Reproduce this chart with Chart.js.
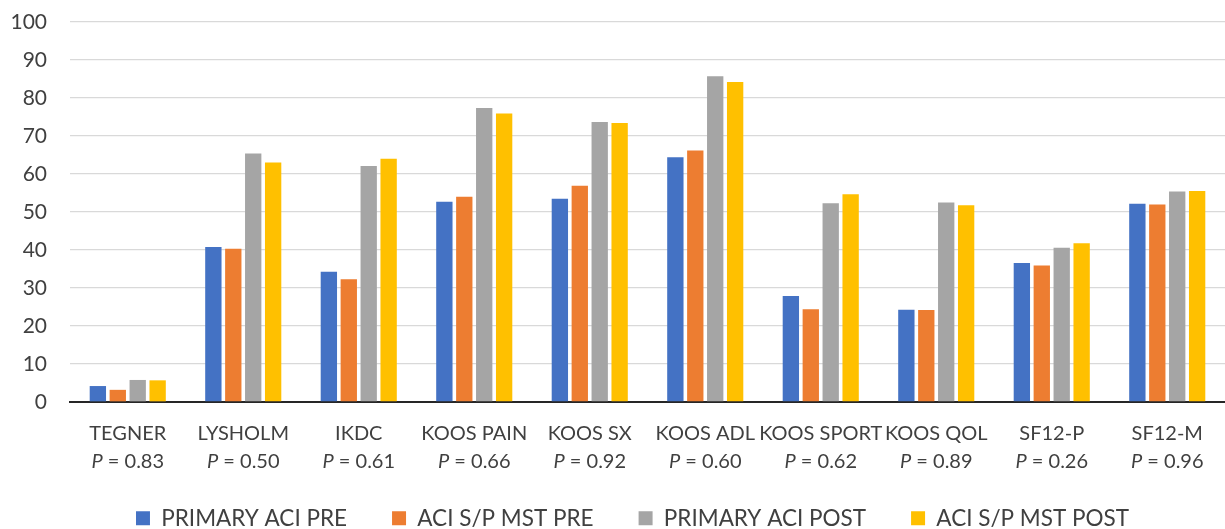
<!DOCTYPE html>
<html>
<head>
<meta charset="utf-8">
<script src="https://cdn.jsdelivr.net/npm/chart.js@4"></script>
<style>
  html, body { margin: 0; padding: 0; background: #ffffff; }
  canvas { display: block; }
</style>
</head>
<body>
<canvas id="outcomes" width="1225" height="529"></canvas>
<script>
// Outcome scores by instrument, pre/post for each cohort
const categories = ['TEGNER', 'LYSHOLM', 'IKDC', 'KOOS PAIN', 'KOOS SX', 'KOOS ADL', 'KOOS SPORT', 'KOOS QOL', 'SF12-P', 'SF12-M'];
const pValues = ['0.83', '0.50', '0.61', '0.66', '0.92', '0.60', '0.62', '0.89', '0.26', '0.96'];

const primaryAciPre  = [4.2, 40.8, 34.3, 52.7, 53.5, 64.4, 27.9, 24.3, 36.6, 52.2];
const aciMstPre      = [3.2, 40.3, 32.3, 54.0, 56.9, 66.2, 24.4, 24.2, 35.9, 52.0];
const primaryAciPost = [5.8, 65.4, 62.1, 77.4, 73.7, 85.7, 52.3, 52.5, 40.6, 55.4];
const aciMstPost     = [5.7, 63.0, 64.0, 75.9, 73.4, 84.2, 54.7, 51.8, 41.8, 55.5];

const seriesNames = ['PRIMARY ACI PRE', 'ACI S/P MST PRE', 'PRIMARY ACI POST', 'ACI S/P MST POST'];
const seriesColors = ['#4472C4', '#ED7D31', '#A5A5A5', '#FFC000'];
const yTickValues = [0, 10, 20, 30, 40, 50, 60, 70, 80, 90, 100];

const TEXT_COLOR = '#404040';
const FONT_FAMILY = 'Lato, "Open Sans", sans-serif';
const TICK_SIZE = 21;
const CATEGORY_SIZE = 20;
const LEGEND_SIZE = 22.5;

// Two-line category labels with an italic "P"
const categoryLabels = {
  id: 'categoryLabels',
  afterDraw(chart) {
    const { ctx } = chart;
    const x = chart.scales.x;
    const regular = CATEGORY_SIZE + 'px ' + FONT_FAMILY;
    const italic = 'italic ' + CATEGORY_SIZE + 'px ' + FONT_FAMILY;
    ctx.save();
    ctx.fillStyle = TEXT_COLOR;
    ctx.textBaseline = 'middle';
    categories.forEach((name, i) => {
      const cx = x.getPixelForTick(i);
      ctx.font = regular;
      ctx.textAlign = 'center';
      ctx.fillText(name, cx, x.top + 32);

      const rest = ' = ' + pValues[i];
      ctx.font = italic;
      const wP = ctx.measureText('P').width;
      ctx.font = regular;
      const wRest = ctx.measureText(rest).width;
      const start = cx - (wP + wRest) / 2;
      ctx.textAlign = 'left';
      ctx.font = italic;
      ctx.fillText('P', start, x.top + 60);
      ctx.font = regular;
      ctx.fillText(rest, start + wP, x.top + 60);
    });
    ctx.restore();
  }
};

// Nudge the legend row slightly right of the canvas centre
const legendOffset = {
  id: 'legendOffset',
  afterLayout(chart) {
    if (chart.legend) chart.legend.left += 40;
  }
};

new Chart(document.getElementById('outcomes'), {
  type: 'bar',
  data: {
    labels: categories,
    datasets: [primaryAciPre, aciMstPre, primaryAciPost, aciMstPost].map((values, k) => ({
      label: seriesNames[k],
      data: values,
      backgroundColor: seriesColors[k],
      borderWidth: 0,
      barPercentage: 0.82,
      categoryPercentage: 0.69
    }))
  },
  options: {
    responsive: false,
    animation: false,
    layout: { padding: { top: 22, left: 0, right: 0, bottom: 0 } },
    plugins: {
      tooltip: { enabled: false },
      legend: {
        position: 'bottom',
        maxHeight: 67,
        labels: {
          boxWidth: 14,
          boxHeight: 14,
          padding: 45,
          color: TEXT_COLOR,
          font: { family: FONT_FAMILY, size: LEGEND_SIZE }
        }
      }
    },
    scales: {
      x: {
        grid: { display: false, drawTicks: false },
        border: { display: true, color: '#262626', width: 2 },
        ticks: { display: false },
        afterFit(scale) { scale.height = 60; }
      },
      y: {
        min: 0,
        max: 100,
        afterBuildTicks(scale) { scale.ticks = yTickValues.map(v => ({ value: v })); },
        grid: { color: '#D9D9D9', lineWidth: 1.3, drawTicks: false },
        border: { display: false },
        ticks: {
          padding: 23,
          color: TEXT_COLOR,
          font: { family: FONT_FAMILY, size: TICK_SIZE }
        },
        afterFit(scale) {
          scale.width = 70;
          // only half a label of headroom above the top tick
          scale.paddingTop = 12;
          scale.paddingBottom = 12;
        }
      }
    }
  },
  plugins: [categoryLabels, legendOffset]
});
</script>
</body>
</html>
